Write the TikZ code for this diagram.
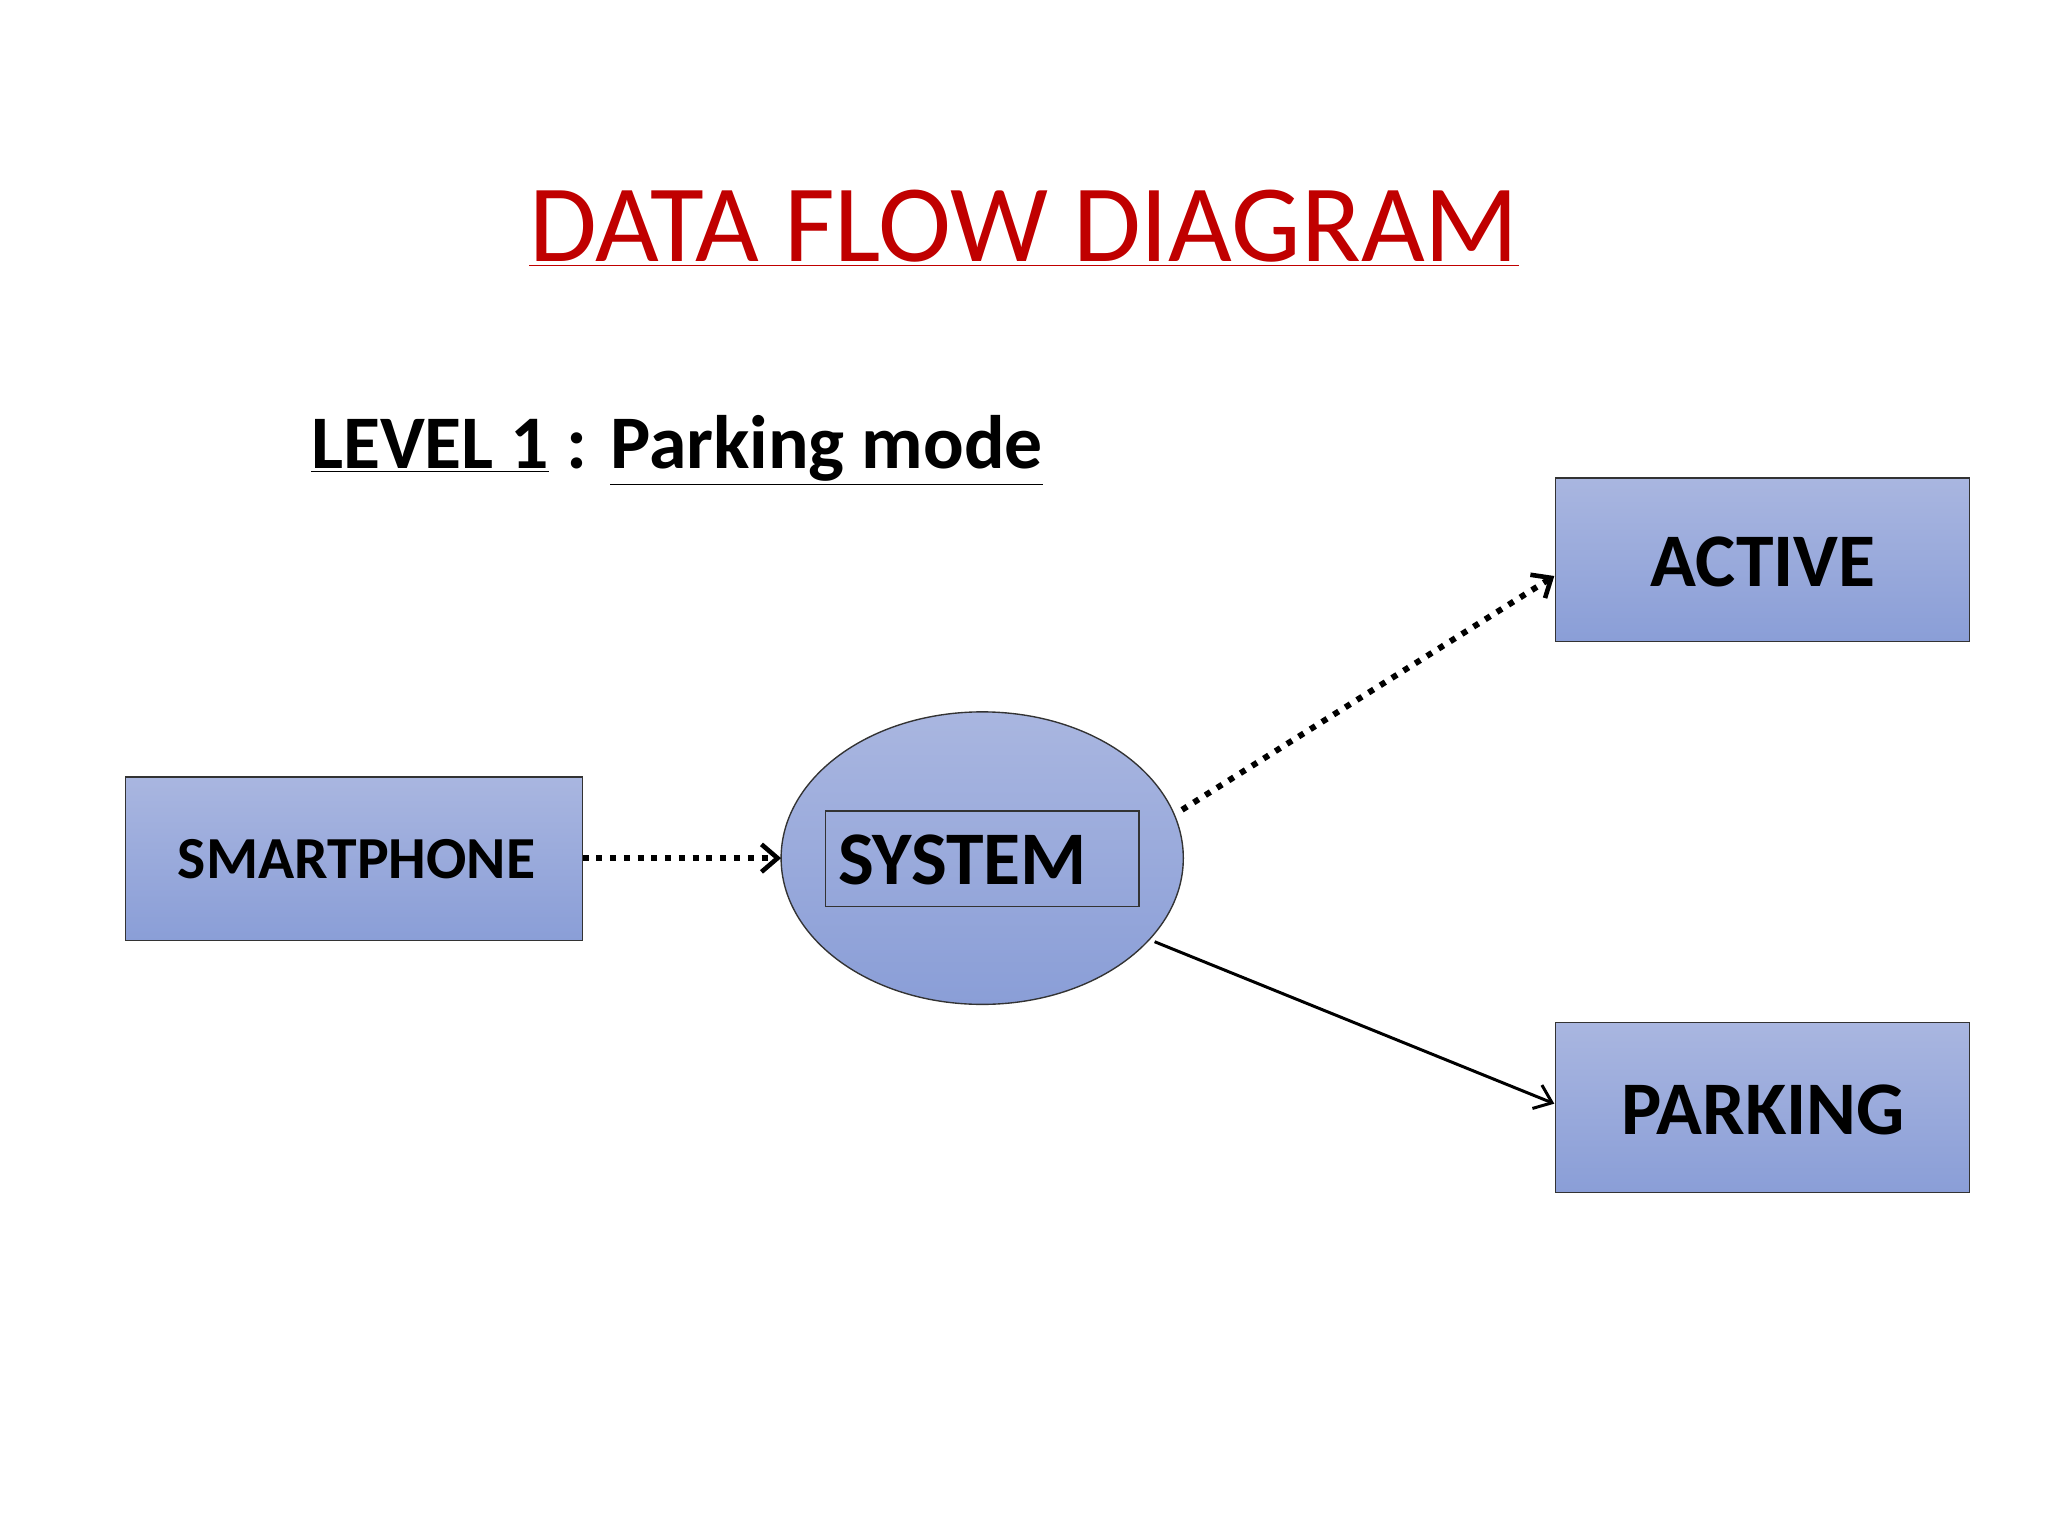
\documentclass[tikz,border=0pt]{standalone}
\usepackage{fontspec}
\setmainfont{Carlito}
\usetikzlibrary{arrows.meta,shapes.geometric}
\definecolor{boxtop}{HTML}{A9B6E0}
\definecolor{boxbot}{HTML}{8A9ED7}
\definecolor{titlered}{HTML}{C00000}
\begin{document}
\begin{tikzpicture}[x=0.02cm,y=-0.02cm,
  box/.style={draw=black!80,line width=0.6pt,top color=boxtop,bottom color=boxbot},
  dotarr/.style={line width=2.6pt,dash pattern=on 2.6pt off 3.4pt,-{Straight Barb[length=7pt,width=12pt,line width=2pt]}},
  solarr/.style={line width=1.3pt,-{Straight Barb[length=7pt,width=11pt]}}]
\useasboundingbox (0,0) rectangle (1568,1176);
\node[text=titlered,font=\fontsize{48}{56}\selectfont] (title) at (784,175) {\underline{DATA FLOW DIAGRAM}};
\node[anchor=west,font=\bfseries\fontsize{33}{40}\selectfont] (lvl) at (232,345) {\underline{LEVEL 1} : \underline{Parking mode}};
\path[box] (96,595) rectangle (446,720);
\node[anchor=west,font=\bfseries\fontsize{26}{30}\selectfont] (sp) at (130,658) {SMARTPHONE};
\coordinate (spE) at (446,657);
\node[ellipse,box,minimum width=308\pgflinewidth*0+6.16cm,minimum height=4.48cm] (sys) at (752,657) {};
\path[draw=black!80,line width=0.8pt] (632,621) rectangle (872,694);
\node[font=\bfseries\fontsize{33}{40}\selectfont] (syst) at (737,658) {SYSTEM};
\path[box] (1191,366) rectangle (1508,491);
\node[font=\bfseries\fontsize{33}{40}\selectfont] (act) at (1350,430) {ACTIVE};
\path[box] (1191,783) rectangle (1508,913);
\node[font=\bfseries\fontsize{33}{40}\selectfont] (park) at (1350,850) {PARKING};
\coordinate (sysW) at (598,657);
\coordinate (sysNE) at (905,620);
\coordinate (sysSE) at (884,721);
\coordinate (actW) at (1190,441);
\coordinate (parkW) at (1190,845);
\draw[dotarr] (spE) -- (sysW);
\draw[dotarr] (sysNE) -- (actW);
\draw[solarr] (sysSE) -- (parkW);
\end{tikzpicture}
\end{document}
